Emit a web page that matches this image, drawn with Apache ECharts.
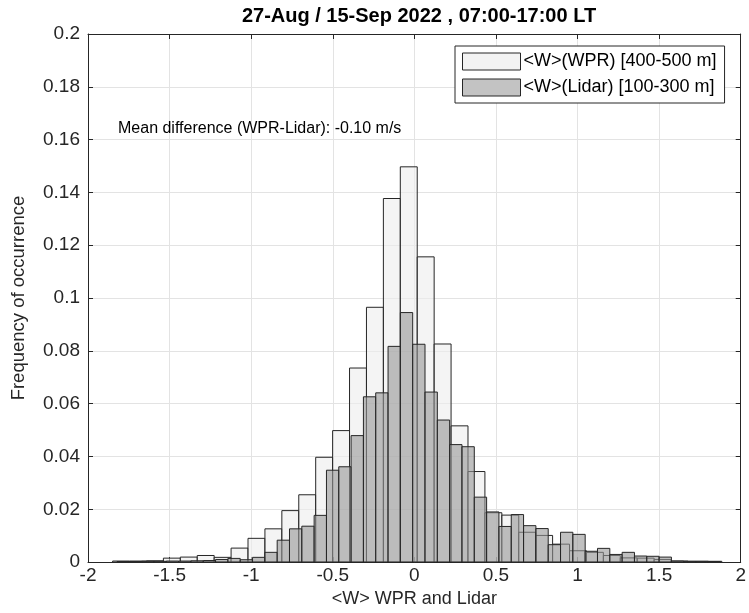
<!DOCTYPE html>
<html>
<head>
<meta charset="utf-8">
<script src="https://cdn.jsdelivr.net/npm/echarts@6/dist/echarts.min.js"></script>
<style>
html,body{margin:0;padding:0;background:#fff;overflow:hidden;}
#chart{width:749px;height:613px;}
</style>
</head>
<body>
<div id="chart"></div>
<script>
// ---- Data ----
var titleText = '27-Aug / 15-Sep 2022 , 07:00-17:00 LT';
var xName = '<W> WPR and Lidar';
var yName = 'Frequency of occurrence';
var noteText = 'Mean difference (WPR-Lidar): -0.10 m/s';
var seriesNames = ['<W>(WPR) [400-500 m]', '<W>(Lidar) [100-300 m]'];

var xTicks = [-2, -1.5, -1, -0.5, 0, 0.5, 1, 1.5, 2];
var yTicks = [0, 0.02, 0.04, 0.06, 0.08, 0.1, 0.12, 0.14, 0.16, 0.18, 0.2];

// WPR histogram: bin edges and frequencies
var wprEdges = [-1.849, -1.7453, -1.6416, -1.5379, -1.4342, -1.3305, -1.2268, -1.1231, -1.0194,
  -0.9157, -0.812, -0.7083, -0.6046, -0.5009, -0.3972, -0.2935, -0.1898, -0.0861, 0.0176,
  0.1213, 0.225, 0.3287, 0.4324, 0.5361, 0.6398, 0.7435, 0.8472, 0.9509, 1.0546, 1.1583,
  1.262, 1.3657, 1.4694, 1.5731, 1.6768, 1.7805, 1.8842];
var wprFreq = [0.0004, 0.0004, 0.0005, 0.0015, 0.0019, 0.0025, 0.0018, 0.0053, 0.009,
  0.0126, 0.0195, 0.0255, 0.0397, 0.0498, 0.0735, 0.0965, 0.1377, 0.1497, 0.1156,
  0.0826, 0.0516, 0.0343, 0.0187, 0.0178, 0.0113, 0.0101, 0.0068, 0.0043, 0.0037, 0.0025,
  0.0016, 0.0015, 0.001, 0.0004, 0.0003, 0.0003];

// Lidar histogram: bin edges and frequencies
var lidarEdges = [-1.8222, -1.7467, -1.6712, -1.5957, -1.5202, -1.4447, -1.3692, -1.2937,
  -1.2182, -1.1427, -1.0672, -0.9917, -0.9162, -0.8407, -0.7652, -0.6897, -0.6142, -0.5387,
  -0.4632, -0.3877, -0.3122, -0.2367, -0.1612, -0.0857, -0.0102, 0.0653, 0.1408, 0.2163,
  0.2918, 0.3673, 0.4428, 0.5183, 0.5938, 0.6693, 0.7448, 0.8203, 0.8958, 0.9713, 1.0468,
  1.1223, 1.1978, 1.2733, 1.3488, 1.4243, 1.4998, 1.5753, 1.6508, 1.7263, 1.8018, 1.8773];
var lidarFreq = [0.0002, 0.0002, 0.0003, 0.0003, 0.0004, 0.0004, 0.0005, 0.0006,
  0.001, 0.0014, 0.0009, 0.0018, 0.0037, 0.0083, 0.0126, 0.0136, 0.0177, 0.0348,
  0.0361, 0.0479, 0.0626, 0.0641, 0.0817, 0.0945, 0.0825, 0.0644, 0.0538, 0.0445,
  0.0437, 0.0246, 0.019, 0.0135, 0.018, 0.0138, 0.0127, 0.0066, 0.0113, 0.0105, 0.0041,
  0.0052, 0.0029, 0.0037, 0.0023, 0.0022, 0.0019, 0.0004, 0.0003, 0.0003, 0.0002];

// ---- Build ----
function bins(edges, freq) {
  var out = [];
  for (var i = 0; i < freq.length; i++) out.push([edges[i], edges[i + 1], freq[i]]);
  return out;
}
var FONT = 'Liberation Sans, Arial, Helvetica, sans-serif';
var wprFill = 'rgba(236,236,236,0.6)';
var lidarFill = 'rgba(150,150,150,0.6)';
var edgeCol = '#262626';

function makeRender(fill) {
  return function (params, api) {
    var x0 = api.value(0), x1 = api.value(1), h = api.value(2);
    var p0 = api.coord([x0, h]);
    var p1 = api.coord([x1, 0]);
    return {
      type: 'rect',
      shape: { x: p0[0], y: p0[1], width: p1[0] - p0[0], height: p1[1] - p0[1] },
      style: { fill: fill, stroke: edgeCol, lineWidth: 1 }
    };
  };
}

var chart = echarts.init(document.getElementById('chart'), null, { renderer: 'canvas', width: 749, height: 613 });
var fmt = function (v) { return String(parseFloat(v.toFixed(2))); };
var axisCommon = {
  axisLine: { show: true, onZero: false, lineStyle: { color: '#262626', width: 1 } },
  axisTick: { show: true, inside: true, length: 5, lineStyle: { color: '#262626' } }
};
var option = {
  animation: false,
  backgroundColor: '#ffffff',
  textStyle: { fontFamily: FONT },
  title: {
    text: titleText, left: 414, top: 1, textAlign: 'center',
    textStyle: { fontSize: 20, fontWeight: 'bold', color: '#000', fontFamily: FONT }
  },
  legend: {
    orient: 'vertical', left: 455, top: 46,
    backgroundColor: '#fff', borderColor: '#262626', borderWidth: 1,
    padding: [5, 8, 5, 7], itemGap: 5, itemWidth: 58, itemHeight: 17,
    textStyle: { fontSize: 18, lineHeight: 21, color: '#000', fontFamily: FONT, padding: [0, 0, 0, -2] },
    data: [
      { name: seriesNames[0], icon: 'rect', itemStyle: { color: '#f3f3f3', borderColor: edgeCol, borderWidth: 1 } },
      { name: seriesNames[1], icon: 'rect', itemStyle: { color: '#c3c3c3', borderColor: edgeCol, borderWidth: 1 } }
    ]
  },
  grid: { left: 88, width: 653, top: 34, height: 542, containLabel: false },
  xAxis: [
    Object.assign({
      type: 'value', min: xTicks[0], max: xTicks[xTicks.length - 1], interval: 0.5,
      name: xName, nameLocation: 'middle', nameGap: 20,
      nameTextStyle: { fontSize: 18, color: '#262626', fontFamily: FONT },
      axisLabel: { fontSize: 19, color: '#262626', margin: 4, formatter: fmt, fontFamily: FONT },
      splitLine: { show: true, lineStyle: { color: '#e3e3e3', width: 1 } }
    }, axisCommon),
    Object.assign({
      type: 'value', position: 'top', min: xTicks[0], max: xTicks[xTicks.length - 1], interval: 0.5,
      axisLabel: { show: false }, splitLine: { show: false }
    }, axisCommon)
  ],
  yAxis: [
    Object.assign({
      type: 'value', min: yTicks[0], max: yTicks[yTicks.length - 1], interval: 0.02,
      name: yName, nameLocation: 'middle', nameGap: 60, nameRotate: 90,
      nameTextStyle: { fontSize: 18.5, color: '#262626', fontFamily: FONT },
      axisLabel: { fontSize: 19, color: '#262626', margin: 8, formatter: fmt, fontFamily: FONT },
      splitLine: { show: true, lineStyle: { color: '#e3e3e3', width: 1 } }
    }, axisCommon),
    Object.assign({
      type: 'value', position: 'right', min: yTicks[0], max: yTicks[yTicks.length - 1], interval: 0.02,
      axisLabel: { show: false }, splitLine: { show: false }
    }, axisCommon)
  ],
  graphic: [{
    type: 'text', left: 118, top: 121, z: 10,
    style: { text: noteText, fontSize: 16, fill: '#000', fontFamily: FONT }
  }],
  series: [
    {
      name: seriesNames[0], type: 'custom', renderItem: makeRender(wprFill),
      itemStyle: { color: '#f3f3f3' },
      encode: { x: [0, 1], y: 2 }, data: bins(wprEdges, wprFreq), z: 2
    },
    {
      name: seriesNames[1], type: 'custom', renderItem: makeRender(lidarFill),
      itemStyle: { color: '#c3c3c3' },
      encode: { x: [0, 1], y: 2 }, data: bins(lidarEdges, lidarFreq), z: 3
    }
  ]
};
chart.setOption(option);
</script>
</body>
</html>
